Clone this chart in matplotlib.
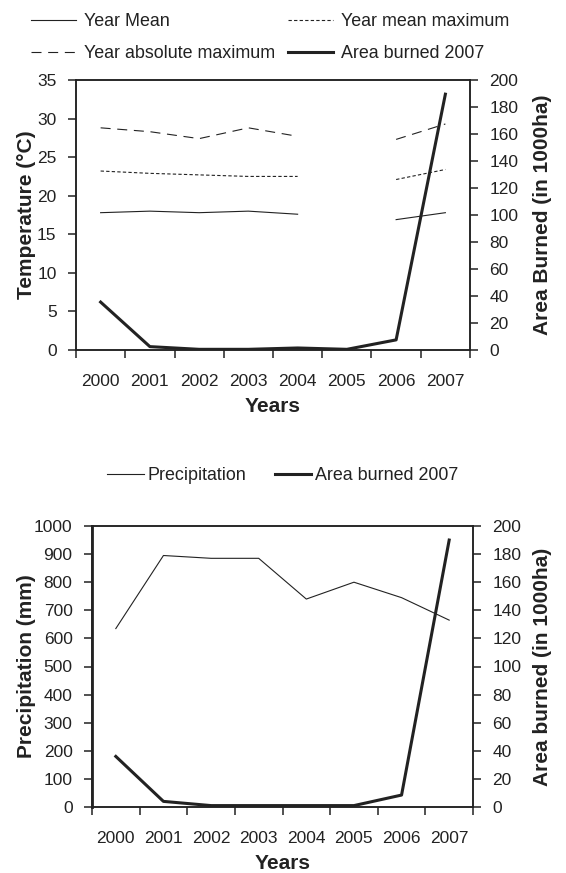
import numpy as np
import matplotlib
matplotlib.use('Agg')
import matplotlib.pyplot as plt

plt.rcParams['font.family'] = ['Liberation Sans', 'DejaVu Sans']

years = ['2000', '2001', '2002', '2003', '2004', '2005', '2006', '2007']
# temperature (no data for 2005)
year_mean = [17.8, 18.0, 17.8, 18.0, 17.6, np.nan, 16.9, 17.8]
year_mean_max = [23.2, 22.9, 22.7, 22.5, 22.5, np.nan, 22.1, 23.4]
year_abs_max = [28.8, 28.3, 27.4, 28.8, 27.7, np.nan, 27.3, 29.3]
# area burned, 1000 ha
area_top = [35.5, 2.5, 0.5, 0.5, 1.5, 0.5, 7.5, 189.5]
area_bottom = [36, 4, 1, 1, 1, 1, 8.5, 190]
precip = [635, 895, 885, 885, 740, 800, 745, 665]

ink = '#222222'
fs = 12.5
lfs = 12.9
lab = 15

fig = plt.figure(figsize=(5.66, 8.73), dpi=100)
x = np.arange(len(years)) + 0.5


def style_axes(ax, ax2, ylim, yticks, ylim2, yticks2):
    ax.set_xlim(0, len(years))
    ax.set_xticks(np.arange(len(years) + 1))
    ax.set_xticklabels([])
    ax.set_xticks(x, minor=True)
    ax.set_xticklabels(years, minor=True)
    ax.tick_params(axis='x', which='major', direction='out', length=6, width=1.1, color=ink)
    ax.tick_params(axis='x', which='minor', length=0, pad=17, labelsize=fs, labelcolor=ink)
    ax.set_ylim(*ylim)
    ax.set_yticks(yticks)
    ax.tick_params(axis='y', direction='out', length=6, width=1.1, color=ink,
                   labelsize=fs, labelcolor=ink, pad=8)
    ax2.set_ylim(*ylim2)
    ax2.set_yticks(yticks2)
    ax2.tick_params(axis='y', direction='out', length=6, width=1.1, color=ink,
                    labelsize=fs, labelcolor=ink, pad=8)
    for a in (ax, ax2):
        for s in a.spines.values():
            s.set_color(ink)
            s.set_linewidth(1.1)
    ax.set_xlabel('Years', fontsize=lab, fontweight='bold', color=ink, labelpad=6)


# ---- top: temperature ----
ax1 = fig.add_axes([76 / 566, 1 - 350 / 873, 394 / 566, 270 / 873])
ax1b = ax1.twinx()
l1, = ax1.plot(x, year_mean, color=ink, lw=0.8, label='Year Mean')
l2, = ax1.plot(x, year_mean_max, color=ink, lw=0.8, ls=(0, (3, 2)), label='Year mean maximum')
l3, = ax1.plot(x, year_abs_max, color=ink, lw=0.8, ls=(0, (9, 6)), label='Year absolute maximum')
l4, = ax1b.plot(x, area_top, color=ink, lw=2.2, label='Area burned 2007')
style_axes(ax1, ax1b, (0, 35), range(0, 36, 5), (0, 200), range(0, 201, 20))
ax1.set_ylabel('Temperature (°C)', fontsize=lab, fontweight='bold', color=ink)
ax1b.set_ylabel('Area Burned (in 1000ha)', fontsize=lab, fontweight='bold', color=ink)
ax1.yaxis.set_label_coords((36 - 76) / 394, 0.5)
ax1b.yaxis.set_label_coords((533 - 76) / 394, 0.5)

fig.legend(handles=[l1, l3, l2, l4], ncol=2, loc='upper left',
           bbox_to_anchor=(31 / 566, 1 - 13 / 873), frameon=False, fontsize=lfs,
           handlelength=2.5, handletextpad=0.45, columnspacing=0.75,
           labelspacing=0.85, borderpad=0, borderaxespad=0, labelcolor=ink)

# ---- bottom: precipitation ----
ax2 = fig.add_axes([92 / 566, 1 - 807 / 873, 381 / 566, 281 / 873])
ax2b = ax2.twinx()
p1, = ax2.plot(x, precip, color=ink, lw=0.8, label='Precipitation')
p2, = ax2b.plot(x, area_bottom, color=ink, lw=2.2, label='Area burned 2007')
style_axes(ax2, ax2b, (0, 1000), range(0, 1001, 100), (0, 200), range(0, 201, 20))
ax2.spines['left'].set_linewidth(2.0)
ax2.set_ylabel('Precipitation (mm)', fontsize=lab, fontweight='bold', color=ink)
ax2b.set_ylabel('Area burned (in 1000ha)', fontsize=lab, fontweight='bold', color=ink)
ax2.yaxis.set_label_coords((36 - 92) / 381, 0.5)
ax2b.yaxis.set_label_coords((533 - 92) / 381, 0.5)

fig.legend(handles=[p1, p2], ncol=2, loc='upper left',
           bbox_to_anchor=(107 / 566, 1 - 467 / 873), frameon=False, fontsize=lfs,
           handlelength=2.05, handletextpad=0.2, columnspacing=1.6,
           borderpad=0, borderaxespad=0, labelcolor=ink)

fig.savefig('out.png', dpi=100)
